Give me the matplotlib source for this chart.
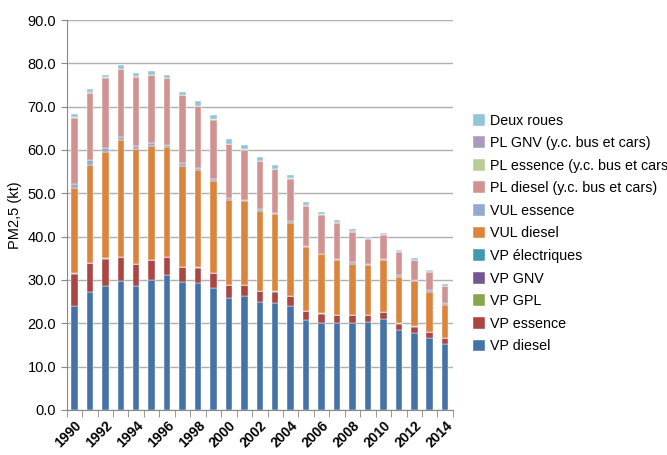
import numpy as np
import matplotlib.pyplot as plt

years = list(range(1990, 2015))

# PM2,5 emissions by vehicle category (kt)
vp_diesel = [24.0, 27.2, 28.6, 29.8, 28.6, 30.1, 31.1, 29.5, 29.2, 28.2, 25.8, 26.2, 24.9,
             24.8, 23.9, 20.7, 20.1, 20.0, 20.1, 20.3, 21.0, 18.4, 17.8, 16.7, 15.2]
vp_essence = [7.4, 6.7, 6.3, 5.5, 5.1, 4.5, 4.2, 3.5, 3.6, 3.3, 3.0, 2.6, 2.5,
              2.5, 2.4, 2.1, 2.1, 1.9, 1.8, 1.6, 1.5, 1.5, 1.4, 1.3, 1.4]
vp_gpl = [0.1, 0.1, 0.1, 0.1, 0.1, 0.1, 0.1, 0.1, 0.1, 0.1, 0.1, 0.1, 0.1,
          0.1, 0.1, 0.1, 0.1, 0.1, 0.1, 0.1, 0.1, 0.1, 0.1, 0.1, 0.1]
vp_gnv = [0.0] * 25
vp_elec = [0.0] * 25
vul_diesel = [19.8, 22.6, 24.5, 26.8, 26.5, 26.2, 25.3, 23.3, 22.4, 21.2, 19.5, 19.3, 18.4,
              17.8, 16.8, 14.6, 13.6, 12.5, 11.8, 11.4, 11.9, 10.8, 10.4, 9.2, 7.6]
vul_essence = [0.9, 1.1, 0.9, 0.7, 0.6, 0.7, 0.5, 0.5, 0.5, 0.6, 0.6, 0.3, 0.5,
               0.2, 0.3, 0.3, 0.2, 0.4, 0.3, 0.3, 0.3, 0.4, 0.3, 0.3, 0.3]
pl_diesel = [15.3, 15.5, 16.3, 15.8, 16.0, 15.7, 15.4, 15.7, 14.3, 13.6, 12.3, 11.6, 11.0,
             10.1, 9.9, 9.3, 9.0, 8.3, 7.0, 5.8, 5.6, 5.3, 4.5, 4.3, 4.0]
pl_essence = [0.05] * 25
pl_gnv = [0.05] * 25
deux_roues = [0.8, 0.8, 0.6, 0.9, 0.7, 0.8, 0.6, 0.8, 1.0, 1.0, 1.1, 0.9, 0.8,
              0.9, 0.8, 0.8, 0.6, 0.5, 0.5, 0.4, 0.3, 0.4, 0.4, 0.3, 0.4]

series = [
    ("VP diesel", vp_diesel, "#4572A7"),
    ("VP essence", vp_essence, "#AA4643"),
    ("VP GPL", vp_gpl, "#89A54E"),
    ("VP GNV", vp_gnv, "#71588F"),
    ("VP électriques", vp_elec, "#4198AF"),
    ("VUL diesel", vul_diesel, "#DB843D"),
    ("VUL essence", vul_essence, "#93A9CF"),
    ("PL diesel (y.c. bus et cars)", pl_diesel, "#D19392"),
    ("PL essence (y.c. bus et cars)", pl_essence, "#B9CD96"),
    ("PL GNV (y.c. bus et cars)", pl_gnv, "#A99BBD"),
    ("Deux roues", deux_roues, "#92C5D8"),
]

plt.rcParams['font.family'] = ['Liberation Sans', 'DejaVu Sans']

fig = plt.figure(figsize=(6.67, 4.55), dpi=100)
ax = fig.add_axes([0.100, 0.099, 0.579, 0.857])

x = np.arange(len(years))
bottom = np.zeros(len(years))
handles = []
for name, vals, col in series:
    vals = np.array(vals)
    b = ax.bar(x, vals, 0.42, bottom=bottom, color=col, label=name,
               edgecolor='white', linewidth=0.3, zorder=3)
    handles.append(b)
    bottom += vals

ax.set_ylim(0, 90)
ax.set_xlim(-0.5, len(years) - 0.5)
ax.set_yticks(np.arange(0, 91, 10))
ax.set_yticklabels([f"{v:.1f}" for v in np.arange(0, 91, 10)], fontsize=10.5)
ax.yaxis.grid(True, color='#b0b0b0', linewidth=1, zorder=0)
ax.set_ylabel("PM2,5 (kt)", fontsize=10.5)

ax.set_xticks(x[::2])
ax.set_xticklabels([str(y) for y in years[::2]], rotation=45, ha='right',
                   rotation_mode='anchor', fontsize=10, fontweight='bold')
ax.set_xticks(np.arange(-0.5, len(years), 1), minor=True)
ax.tick_params(axis='x', which='major', length=0, pad=6)
ax.tick_params(axis='x', which='minor', length=5, color='#888888')
ax.tick_params(axis='y', length=4, color='#888888')

for side in ['top', 'right']:
    ax.spines[side].set_visible(False)
for side in ['left', 'bottom']:
    ax.spines[side].set_color('#888888')

leg = fig.legend(handles[::-1], [s[0] for s in series][::-1], loc='upper left',
                 bbox_to_anchor=(0.700, 0.763), frameon=False, fontsize=10.3,
                 handlelength=0.9, handleheight=0.9, handletextpad=0.3,
                 labelspacing=0.6, borderaxespad=0)

fig.savefig("out.png", dpi=100)
